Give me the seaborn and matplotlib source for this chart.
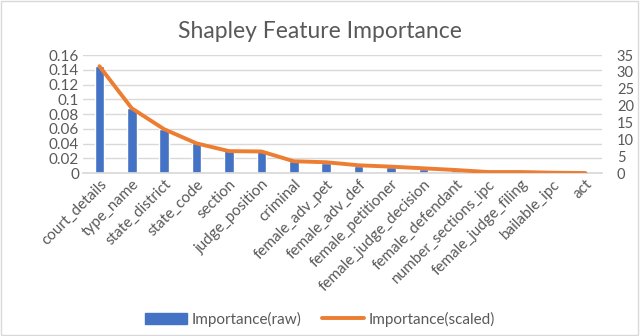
import numpy as np
import pandas as pd
import matplotlib
matplotlib.use("Agg")
import matplotlib.pyplot as plt
import seaborn as sns
from matplotlib.patches import Patch
from matplotlib.lines import Line2D

features = ["court_details", "type_name", "state_district", "state_code", "section",
            "judge_position", "criminal", "female_adv_pet", "female_adv_def",
            "female_petitioner", "female_judge_decision", "female_defendant",
            "number_sections_ipc", "female_judge_filing", "bailable_ipc", "act"]
importance_raw = [0.145, 0.088, 0.060, 0.041, 0.031, 0.031, 0.016, 0.013, 0.010,
                  0.008, 0.006, 0.004, 0.002, 0.002, 0.001, 0.0003]
importance_scaled = [31.7, 19.2, 13.0, 8.8, 6.5, 6.4, 3.5, 3.2, 2.3,
                     1.9, 1.4, 0.9, 0.3, 0.3, 0.1, 0.0]

df = pd.DataFrame({"feature": features, "raw": importance_raw, "scaled": importance_scaled})

sns.set_theme(style="white")
plt.rcParams["font.family"] = ["Lato", "DejaVu Sans"]
grey = "#595959"
blue = "#4472C4"
orange = "#ED7D31"

fig = plt.figure(figsize=(6.4, 3.36), dpi=100)
ax = fig.add_axes([0.13, 0.485, 0.81, 0.351])
ax2 = ax.twinx()

sns.barplot(data=df, x="feature", y="raw", color=blue, width=0.3, ax=ax, saturation=1)
sns.lineplot(x=np.arange(len(features)), y=df["scaled"], color=orange, linewidth=2.8, ax=ax2)

ax.set_ylim(0, 0.16)
ax.set_yticks(np.arange(0, 0.161, 0.02))
ax.set_yticklabels(["0", "0.02", "0.04", "0.06", "0.08", "0.1", "0.12", "0.14", "0.16"])
ax2.set_ylim(0, 35)
ax2.set_yticks(range(0, 36, 5))
ax.set_xlim(-0.5, len(features) - 0.5)

ax.yaxis.grid(True, color="#D9D9D9", linewidth=1)
ax.set_axisbelow(True)
for a in (ax, ax2):
    for s in a.spines.values():
        s.set_visible(False)
    a.set_xlabel("")
    a.set_ylabel("")
    a.tick_params(axis="both", length=0, labelsize=11, colors=grey, pad=3)
ax.spines["bottom"].set_visible(True)
ax.spines["bottom"].set_color("#D9D9D9")
ax2.tick_params(axis="y", pad=11, labelsize=10.5)

plt.setp(ax.get_xticklabels(), rotation=45, ha="right", rotation_mode="anchor")

fig.text(0.5, 0.905, "Shapley Feature Importance", ha="center", va="center",
         fontsize=16.5, color=grey)

handles = [Patch(color=blue), Line2D([], [], color=orange, linewidth=2.8)]
fig.legend(handles, ["Importance(raw)", "Importance(scaled)"], loc="center",
           bbox_to_anchor=(0.5, 0.05), ncol=2, frameon=False, fontsize=11,
           labelcolor=grey, handlelength=2.8, columnspacing=1.3, handletextpad=0.3)

fig.patches.append(plt.Rectangle((0.002, 0.003), 0.995, 0.994, transform=fig.transFigure,
                                 fill=False, edgecolor="#D9D9D9", linewidth=1))

fig.savefig("out.png", dpi=100)
